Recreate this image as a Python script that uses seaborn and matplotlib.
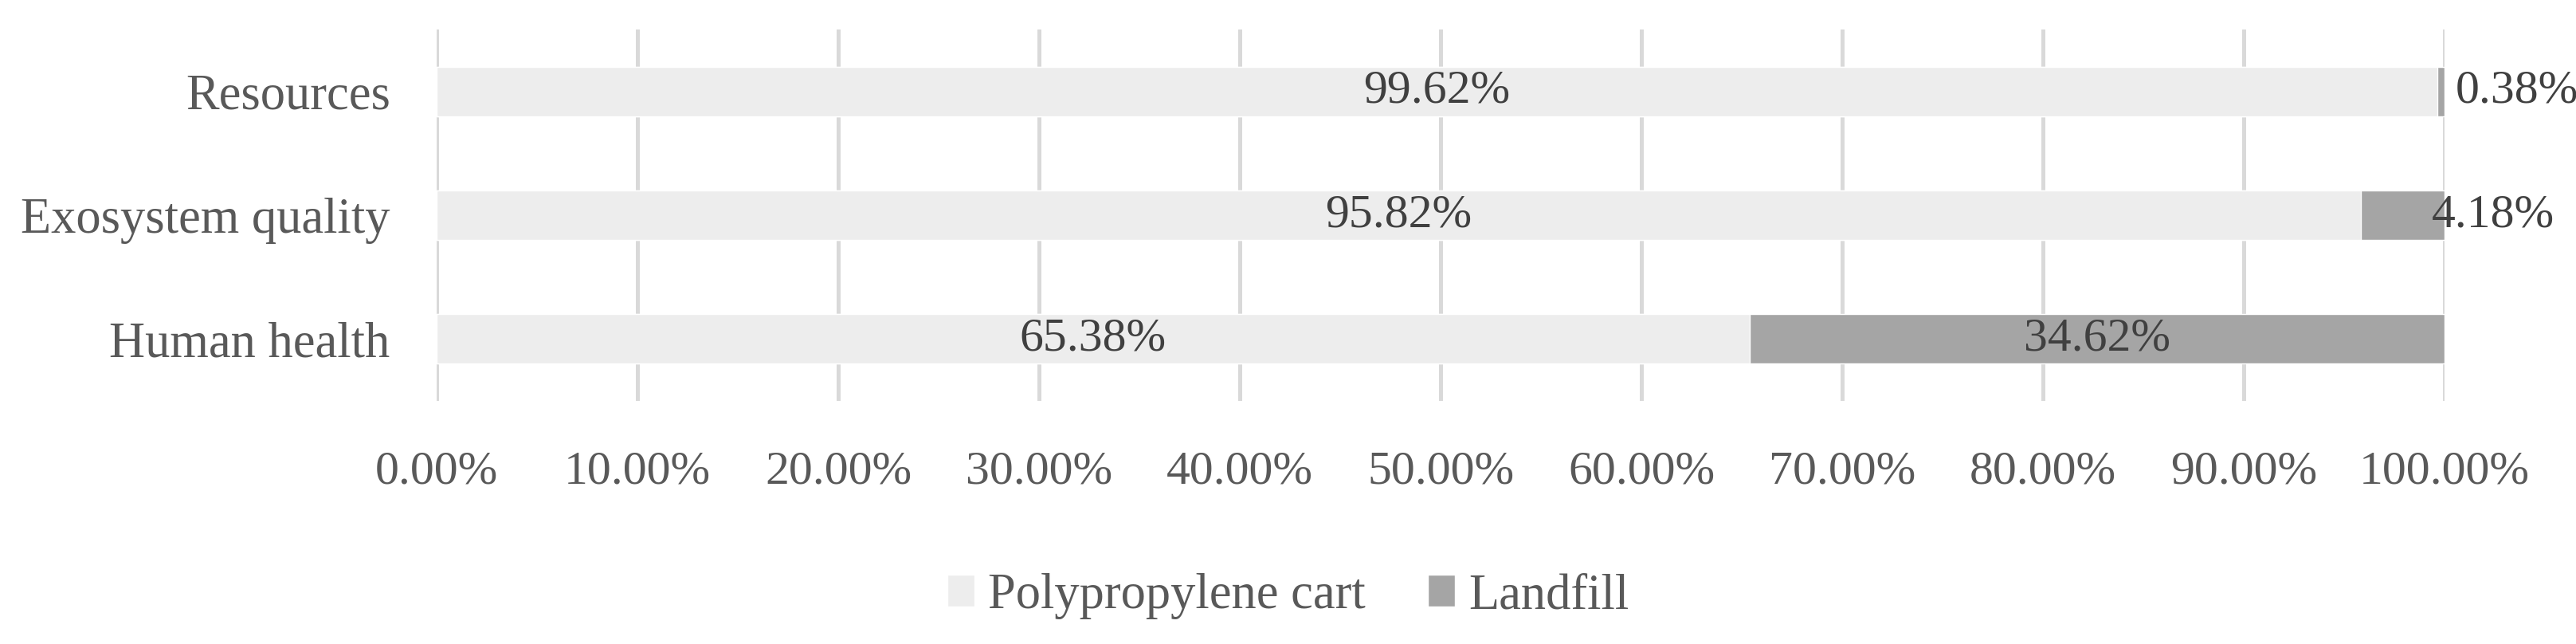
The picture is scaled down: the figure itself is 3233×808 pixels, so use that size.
import matplotlib
matplotlib.use("Agg")
import matplotlib.pyplot as plt
import seaborn as sns
import pandas as pd
from matplotlib.patches import Patch

# данные
categories = ["Resources", "Exosystem quality", "Human health"]
polypropylene = [99.62, 95.82, 65.38]
landfill = [0.38, 4.18, 34.62]
x_ticks = [0, 10, 20, 30, 40, 50, 60, 70, 80, 90, 100]
series_names = ["Polypropylene cart", "Landfill"]

light = "#EDEDED"
dark = "#A5A5A5"
text_col = "#595959"
label_col = "#404040"

sns.set_theme(style="white")
plt.rcParams["font.family"] = ["Liberation Serif", "DejaVu Serif"]

num_fs = 43
word_fs = 45

df = pd.DataFrame({"cat": categories, "poly": polypropylene, "land": landfill})
df["total"] = df["poly"] + df["land"]

fig = plt.figure(figsize=(32.33, 8.08), dpi=100)
ax = fig.add_axes([0.1695, 0.3775, 0.7795, 0.5765])

# сначала полная длина (тёмная), поверх неё светлая часть
sns.barplot(data=df, x="total", y="cat", color=dark, width=0.4, saturation=1, ax=ax, zorder=2)
sns.barplot(data=df, x="poly", y="cat", color=light, width=0.4, saturation=1, ax=ax, zorder=3)

ax.set_xlim(0, 100)
ax.set_ylim(2.5, -0.5)
ax.set_xticks(x_ticks)
ax.set_xticklabels([f"{t:.2f}%" for t in x_ticks])
ax.grid(axis="x", color="#D9D9D9", linewidth=3.6, zorder=0)
ax.grid(axis="y", visible=False)
ax.set_axisbelow(True)
for s in ax.spines.values():
    s.set_visible(False)
ax.set_xlabel("")
ax.set_ylabel("")
ax.tick_params(axis="x", length=0, pad=45, labelsize=num_fs, labelcolor=text_col)
ax.tick_params(axis="y", length=0, pad=42, labelsize=word_fs, labelcolor=text_col)

# подписи значений
for i, (p, l) in enumerate(zip(polypropylene, landfill)):
    ax.text(p / 2, i, f"{p:.2f}%", ha="center", va="center", fontsize=num_fs, color=label_col, zorder=5)
    if l > 20:
        ax.text(p + l / 2, i, f"{l:.2f}%", ha="center", va="center", fontsize=num_fs, color=label_col, zorder=5)
    else:
        off = 10 if l < 1 else -12
        ax.annotate(f"{l:.2f}%", xy=(p + l, i), xytext=(off, 0), textcoords="offset points",
                    ha="left", va="center", fontsize=num_fs, color=label_col, zorder=5, annotation_clip=False)

handles = [Patch(facecolor=light, label=series_names[0]), Patch(facecolor=dark, label=series_names[1])]
fig.legend(handles=handles, loc="center", bbox_to_anchor=(0.5, 0.074), ncol=2, frameon=False,
           fontsize=word_fs, labelcolor=text_col, handlelength=0.55, handleheight=0.6,
           handletextpad=0.27, columnspacing=1.25)

fig.savefig("out.png", dpi=100, facecolor="white")
